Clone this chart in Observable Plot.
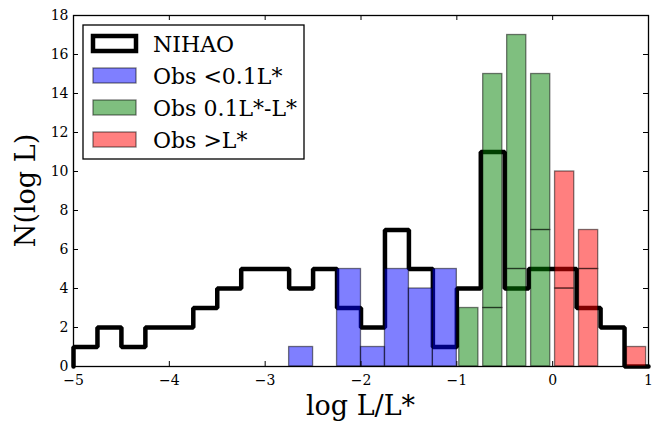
<!DOCTYPE html>
<html>
<head>
<meta charset="utf-8">
<script src="https://cdn.jsdelivr.net/npm/d3@7"></script>
<script src="https://cdn.jsdelivr.net/npm/@observablehq/plot@0.6"></script>
<style>
  html, body { margin: 0; padding: 0; background: #fff; }
  #chart { width: 656px; height: 424px; }
</style>
</head>
<body>
<div id="chart"></div>
<script>
// Luminosity function histograms: simulated NIHAO galaxies vs. observed samples.
const binWidth = 0.25;

// NIHAO counts, bins of 0.25 dex from log L/L* = -5 to 1
const nihaoStart = -5;
const nihaoCounts = [1, 2, 1, 2, 2, 3, 4, 5, 5, 4, 5, 3, 2, 7, 5, 1, 4, 11, 4, 5, 5, 3, 2, 0];

// Observed, faint (< 0.1 L*)
const faintBins = [-2.75, -2.25, -2.0, -1.75, -1.5, -1.25];
const faintCounts = [1, 5, 1, 5, 4, 5];

// Observed, 0.1 L* - L*: stacked (lower part, total)
const midBins = [-1.0, -0.75, -0.5, -0.25];
const midLower = [3, 3, 5, 7];
const midTotal = [3, 15, 17, 15];

// Observed, > L*: stacked (lower part, total)
const brightBins = [0.0, 0.25, 0.75];
const brightLower = [4, 5, 1];
const brightTotal = [10, 7, 1];

const seriesNames = ["NIHAO", "Obs <0.1L*", "Obs 0.1L*-L*", "Obs >L*"];
const xTicks = [-5, -4, -3, -2, -1, 0, 1];
const yTicks = [0, 2, 4, 6, 8, 10, 12, 14, 16, 18];

// Step outline for the NIHAO histogram
const nihaoSteps = [{x: nihaoStart, y: 0}]
  .concat(nihaoCounts.map((c, i) => ({x: nihaoStart + i * binWidth, y: c})))
  .concat([{x: nihaoStart + nihaoCounts.length * binWidth, y: 0}]);

// Stacked segments -> rows with y1/y2
function stackedRows(bins, lower, total) {
  const rows = [];
  bins.forEach((b, i) => {
    rows.push({x0: b, y1: 0, y2: lower[i]});
    if (total[i] > lower[i]) rows.push({x0: b, y1: lower[i], y2: total[i]});
  });
  return rows;
}
const faintRows = faintBins.map((b, i) => ({x0: b, y1: 0, y2: faintCounts[i]}));
const midRows = stackedRows(midBins, midLower, midTotal);
const brightRows = stackedRows(brightBins, brightLower, brightTotal);

const colors = {faint: "#0000ff", mid: "#008000", bright: "#ff0000"};
const W = 656, H = 424, mL = 73, mR = 8, mT = 15, mB = 58;
const frameW = W - mL - mR, frameH = H - mT - mB;
const tickLen = 5;
const intFmt = d3.format("d");

function bars(rows, color, rwidth) {
  const pad = binWidth * (1 - rwidth) / 2;
  return Plot.rect(rows, {
    x1: d => d.x0 + pad,
    x2: d => d.x0 + binWidth - pad,
    y1: "y1",
    y2: "y2",
    fill: color,
    fillOpacity: 0.5,
    stroke: "black",
    strokeOpacity: 0.5,
    strokeWidth: 1.3
  });
}

const chart = Plot.plot({
  width: W,
  height: H,
  marginLeft: mL,
  marginRight: mR,
  marginTop: mT,
  marginBottom: mB,
  style: {fontFamily: "'DejaVu Serif', serif", fontSize: "14px", color: "black", background: "white"},
  x: {domain: [-5, 1], ticks: xTicks, label: null},
  y: {domain: [0, 18], ticks: yTicks, label: null},
  marks: [
    Plot.lineY(nihaoSteps, {x: "x", y: "y", curve: "step-after", stroke: "black", strokeWidth: 4.5, strokeLinejoin: "miter"}),
    bars(faintRows, colors.faint, 1.0),
    bars(midRows, colors.mid, 0.8),
    bars(brightRows, colors.bright, 0.8),
    // inward ticks on all four sides
    Plot.tickX(xTicks, {x: d => d, insetTop: frameH - tickLen, stroke: "black", strokeWidth: 1}),
    Plot.tickX(xTicks, {x: d => d, insetBottom: frameH - tickLen, stroke: "black", strokeWidth: 1}),
    Plot.tickY(yTicks, {y: d => d, insetRight: frameW - tickLen, stroke: "black", strokeWidth: 1}),
    Plot.tickY(yTicks, {y: d => d, insetLeft: frameW - tickLen, stroke: "black", strokeWidth: 1}),
    Plot.axisX({ticks: xTicks, tickFormat: intFmt, tickSize: 0, tickPadding: 9, fontSize: 14, label: null}),
    Plot.axisY({ticks: yTicks, tickFormat: intFmt, tickSize: 0, tickPadding: 5, fontSize: 14, label: null}),
    Plot.frame({stroke: "black", strokeWidth: 1.3})
  ]
});

document.getElementById("chart").appendChild(chart);

const svg = d3.select(chart);

// Axis titles
svg.append("text")
  .attr("x", mL + frameW / 2)
  .attr("y", 415)
  .attr("text-anchor", "middle")
  .style("font-family", "'DejaVu Serif', serif")
  .style("font-size", "27px")
  .attr("fill", "black")
  .text("log L/L*");

svg.append("text")
  .attr("transform", `translate(35, ${mT + frameH / 2}) rotate(-90)`)
  .attr("text-anchor", "middle")
  .style("font-family", "'DejaVu Serif', serif")
  .style("font-size", "27px")
  .attr("fill", "black")
  .text("N(log L)");

// Legend
const lg = svg.append("g").attr("transform", "translate(83, 25)");
lg.append("rect")
  .attr("x", 0).attr("y", 0).attr("width", 221).attr("height", 134)
  .attr("fill", "white").attr("stroke", "black").attr("stroke-width", 1.3);

const legendItems = [
  {name: seriesNames[0], fill: "white", fillOpacity: 1, stroke: "black", strokeOpacity: 1, sw: 4.5},
  {name: seriesNames[1], fill: colors.faint, fillOpacity: 0.5, stroke: "black", strokeOpacity: 0.5, sw: 1.3},
  {name: seriesNames[2], fill: colors.mid, fillOpacity: 0.5, stroke: "black", strokeOpacity: 0.5, sw: 1.3},
  {name: seriesNames[3], fill: colors.bright, fillOpacity: 0.5, stroke: "black", strokeOpacity: 0.5, sw: 1.3}
];
legendItems.forEach((it, i) => {
  const yc = 18.5 + i * 32;
  lg.append("rect")
    .attr("x", 10).attr("y", yc - 7.5).attr("width", 43).attr("height", 15)
    .attr("fill", it.fill).attr("fill-opacity", it.fillOpacity)
    .attr("stroke", it.stroke).attr("stroke-opacity", it.strokeOpacity)
    .attr("stroke-width", it.sw);
  lg.append("text")
    .attr("x", 70).attr("y", yc + 8)
    .attr("text-anchor", "start")
    .style("font-family", "'DejaVu Serif', serif")
    .style("font-size", "22px")
    .attr("fill", "black")
    .text(it.name);
});
</script>
</body>
</html>
